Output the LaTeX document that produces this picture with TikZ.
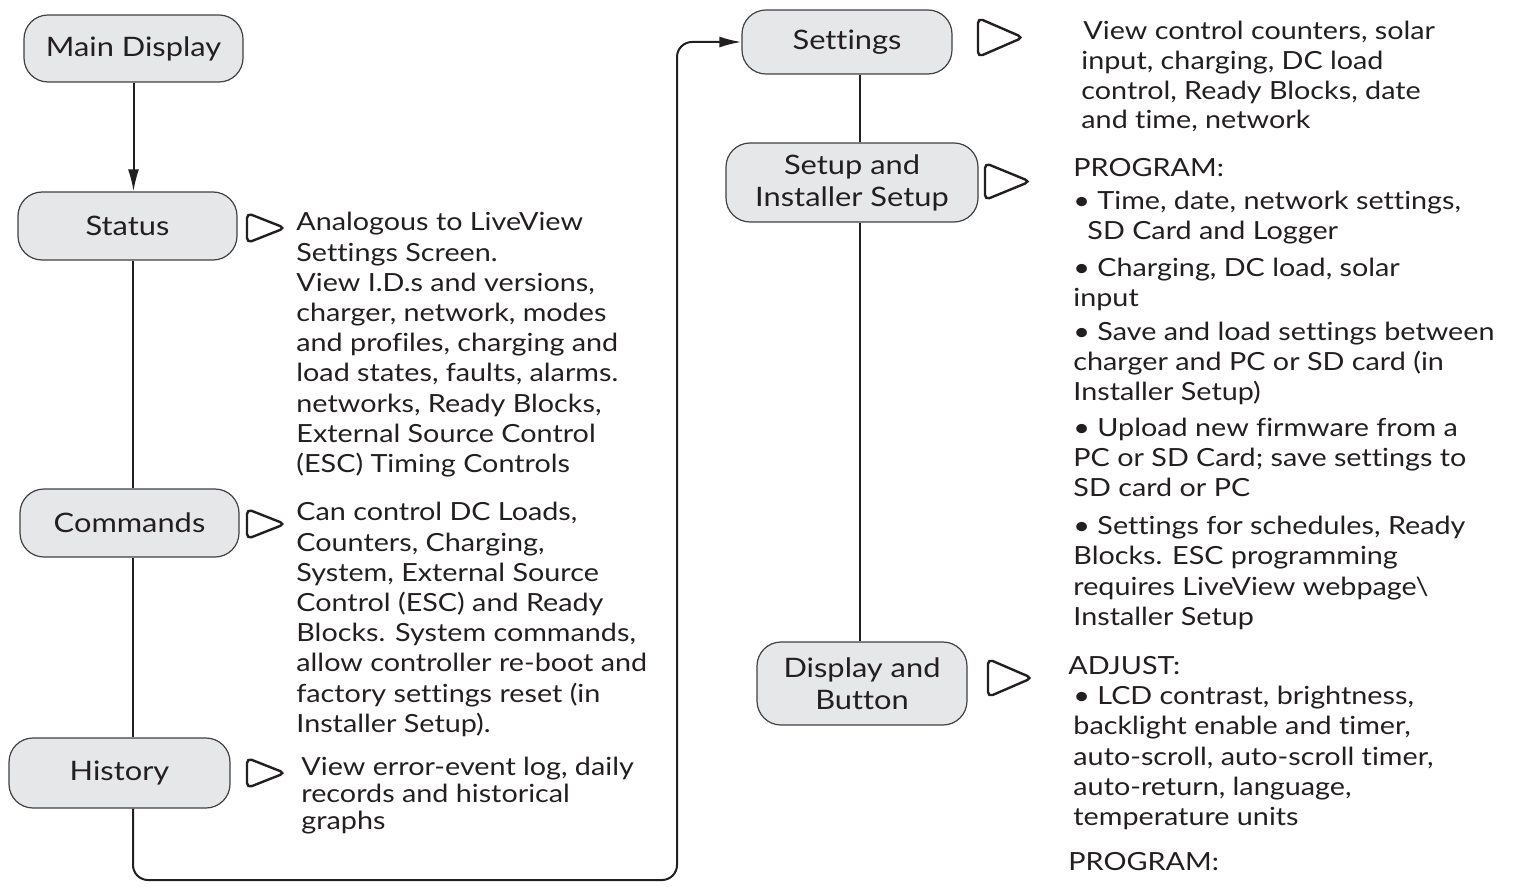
\documentclass[tikz,border=0pt]{standalone}
\usepackage{fontspec}
\setmainfont{Lato}[FakeStretch=1.15, Ligatures=NoCommon]
\usepackage{tikz}
\usetikzlibrary{arrows.meta}
\definecolor{ink}{HTML}{231F20}
\definecolor{boxgray}{HTML}{E6E7E8}
\definecolor{edge}{HTML}{414042}

\begin{document}
\begin{tikzpicture}[x=0.5pt,y=-0.5pt,
  menu/.style={rounded corners=12pt, draw=edge, line width=0.6pt, fill=boxgray, text=ink,
    align=center, inner sep=0pt, font=\fontsize{13.4}{16}\selectfont},
  desc/.style={anchor=north west, align=left, inner sep=0pt, text=ink, font=\fontsize{12.5}{15.1}\selectfont},
  conn/.style={draw=ink, line width=1pt},
  arr/.style={-{Latex[length=11pt,width=5.5pt]}},
  tri/.style={draw=ink, line width=1.2pt, rounded corners=2.5pt}]
\useasboundingbox (0,0) rectangle (1518,887);

% left column
\node [menu, minimum width=109.5pt, minimum height=33.5pt] (main) at (133.5,48.5) {Main Display};
\node [menu, minimum width=109.5pt, minimum height=34pt] (status) at (127.5,226) {Status};
\node [menu, minimum width=109.5pt, minimum height=34pt] (commands) at (129.5,523) {Commands};
\node [menu, minimum width=110.5pt, minimum height=35pt] (history) at (119.5,773) {History};

% right column
\node [menu, minimum width=105pt, minimum height=32pt] (settings) at (847,42) {Settings};
\node [menu, minimum width=126pt, minimum height=39.5pt] (setup) at (852,182.5) {Setup and\\Installer Setup};
\node [menu, minimum width=105pt, minimum height=41.5pt] (display) at (862,683.5) {Display and\\Button};

\coordinate (lspine) at (133,0);
\coordinate (rspine) at (860,0);
\coordinate (turn) at (677,880);

\draw [conn, arr] (main) -- (main.south |- status.north);
\draw [conn] (status.south -| lspine) -- (commands.north -| lspine);
\draw [conn] (commands.south -| lspine) -- (history.north -| lspine);
\draw [conn, arr, rounded corners=7.5pt] (history.south -| lspine) |- (turn) |- (settings.west);
\draw [conn] (settings.south -| rspine) -- (setup.north -| rspine);
\draw [conn] (setup.south -| rspine) -- (display.north -| rspine);

% pointers
\foreach \tx/\ty/\tw/\th in {247/213/38/30, 247/509/38/30, 247/758/38/30,
    978/18/45/39, 985/163/45/37, 988/659/44/38}
  \draw [tri] (\tx,\ty) -- ++(\tw,\th/2) -- ++(-\tw,\th/2) -- cycle;

% texts
\node [desc] (statustext) at (296,212) {Analogous to LiveView\\Settings Screen.\\View I.D.s and versions,\\charger, network, modes\\and profiles, charging and\\load states, faults, alarms.\\networks, Ready Blocks,\\External Source Control\\(ESC) Timing Controls};
\node [desc] (commandstext) at (296,502) {Can control DC Loads,\\Counters, Charging,\\System, External Source\\Control (ESC) and Ready\\Blocks. System commands,\\allow controller re-boot and\\factory settings reset (in\\Installer Setup).};
\node [desc, font=\fontsize{12.5}{13.5}\selectfont] (historytext) at (301,757) {View error-event log, daily\\records and historical\\graphs};
\node [desc, font=\fontsize{12.5}{14.85}\selectfont] (settingstext) at (1081,21) {\hspace{1pt}View control counters, solar\\input, charging, DC load\\control, Ready Blocks, date\\and time, network};
\node [desc] (setuptext) at (1073,158) {PROGRAM:\\[1.5pt]
  • Time, date, network settings,\\\hspace{7pt}SD Card and Logger\\[3pt]
  • Charging, DC load, solar\\input\\[2pt]
  • Save and load settings between\\charger and PC or SD card (in\\Installer Setup)\\[2.5pt]
  • Upload new firmware from a\\PC or SD Card; save settings to\\SD card or PC\\[4pt]
  • Settings for schedules, Ready\\Blocks. ESC programming\\requires LiveView webpage\textbackslash\\Installer Setup};
\node [desc] (displaytext) at (1073,656) {\hspace{-2.5pt}ADJUST:\\
  • LCD contrast, brightness,\\backlight enable and timer,\\auto-scroll, auto-scroll timer,\\auto-return, language,\\temperature units\\[7.5pt]
  \hspace{-2.5pt}PROGRAM:};
\end{tikzpicture}
\end{document}
